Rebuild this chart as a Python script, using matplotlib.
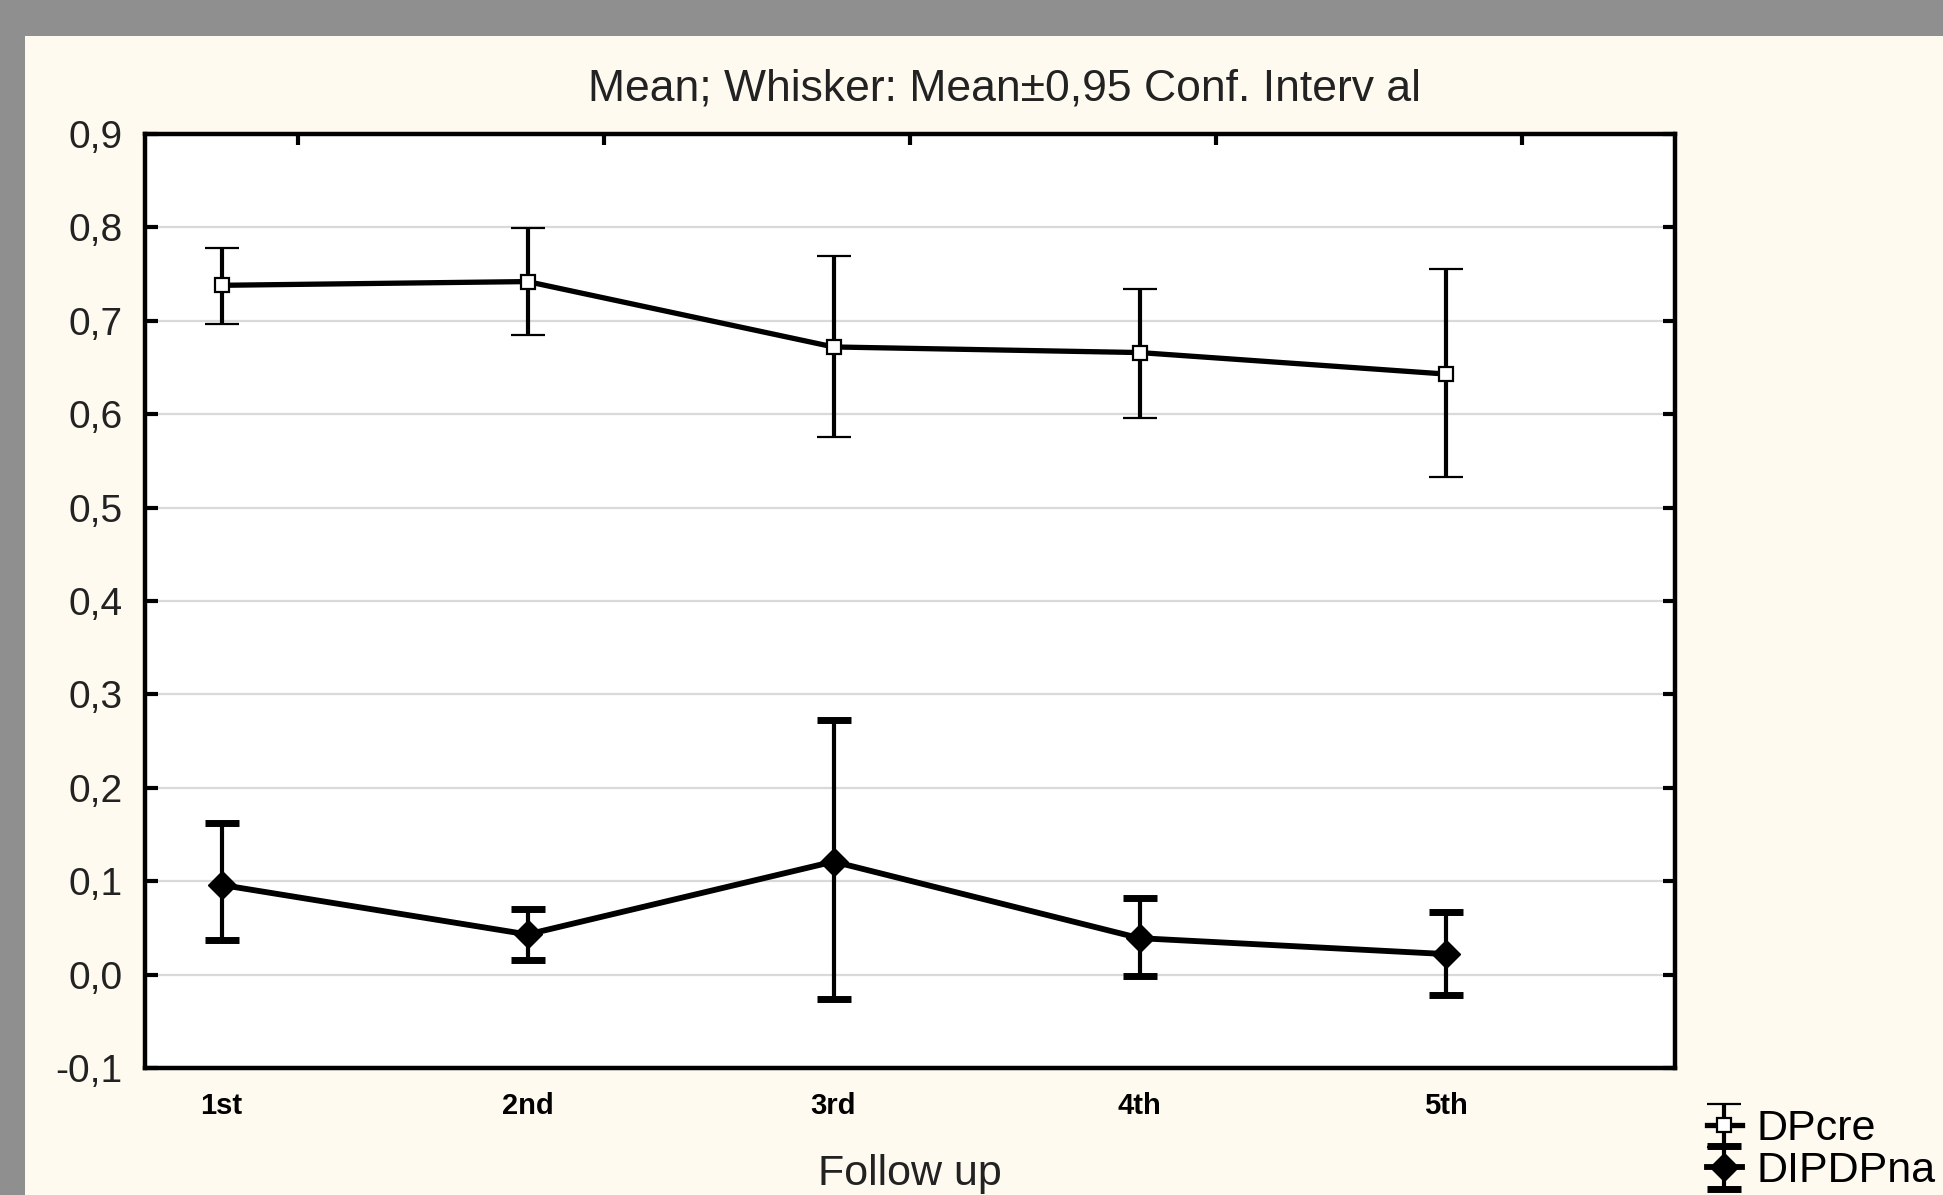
import matplotlib.pyplot as plt
from matplotlib.patches import Rectangle

# data
visits = ['1st', '2nd', '3rd', '4th', '5th']
dpcre_mean = [0.738, 0.742, 0.672, 0.666, 0.643]
dpcre_low = [0.697, 0.685, 0.576, 0.596, 0.533]
dpcre_high = [0.778, 0.799, 0.769, 0.734, 0.755]
dipdp_mean = [0.096, 0.043, 0.121, 0.039, 0.022]
dipdp_low = [0.037, 0.016, -0.026, -0.002, -0.022]
dipdp_high = [0.162, 0.070, 0.273, 0.082, 0.067]
yticks = [-0.1, 0.0, 0.1, 0.2, 0.3, 0.4, 0.5, 0.6, 0.7, 0.8, 0.9]

plt.rcParams['font.family'] = ['Liberation Sans', 'DejaVu Sans']

fig = plt.figure(figsize=(19.43, 11.95), dpi=100, facecolor='#8f8f8f')
# cream panel on the gray window background
fig.patches.append(Rectangle((25 / 1943, 0), 1, 1 - 36 / 1195, transform=fig.transFigure,
                             facecolor='#fefaf0', edgecolor='none', zorder=-10))

ax = fig.add_axes([145 / 1943, 1 - 1068 / 1195, 1530 / 1943, 934 / 1195])
ax.set_facecolor('white')

x = list(range(len(visits)))
err1 = [[m - l for m, l in zip(dpcre_mean, dpcre_low)], [h - m for m, h in zip(dpcre_mean, dpcre_high)]]
err2 = [[m - l for m, l in zip(dipdp_mean, dipdp_low)], [h - m for m, h in zip(dipdp_mean, dipdp_high)]]

h1 = ax.errorbar(x, dpcre_mean, yerr=err1, color='black', lw=3.8, elinewidth=3, capsize=12,
                 capthick=5, marker='s', ms=10, mfc='white', mec='black', mew=1.6, label='DPcre', zorder=3)
h2 = ax.errorbar(x, dipdp_mean, yerr=err2, color='black', lw=4.2, elinewidth=3, capsize=12,
                 capthick=5, marker='D', ms=14, mfc='black', mec='black', label='DIPDPna', zorder=3)

ax.set_xlim(-0.25, 4.75)
ax.set_ylim(-0.1, 0.9)
ax.set_yticks(yticks)
ax.set_yticklabels([f'{v:.1f}'.replace('.', ',') for v in yticks], fontsize=28, color='#222222')
ax.set_xticks(x)
ax.set_xticklabels(visits, fontsize=21, fontweight='bold', family=['Liberation Sans Narrow', 'Liberation Sans'])
ax.grid(axis='y', color='#d9d9d9', lw=1.6, zorder=0)
ax.tick_params(axis='y', direction='in', length=9, width=3, pad=16, right=True)
ax.tick_params(axis='x', length=0, pad=17)
for s in ax.spines.values():
    s.set_linewidth(3.2)

# inward ticks on the top frame, as in the original
top = ax.secondary_xaxis('top')
top.set_xticks([i + 0.25 for i in x])
top.set_xticklabels([])
top.tick_params(direction='in', length=8, width=3)
top.spines['top'].set_visible(False)

ax.set_xlabel('Follow up', fontsize=31, family=['Liberation Sans Narrow', 'Liberation Sans'],
              color='#222222', labelpad=25)
fig.text(1004 / 1943, 1 - 89 / 1195, 'Mean; Whisker: Mean±0,95 Conf. Interv al', ha='center',
         va='center', fontsize=32, color='#222222')

fig.legend(handles=[h1, h2], loc='upper left', bbox_to_anchor=(1690 / 1943, 1 - 1092 / 1195),
           frameon=False, fontsize=31, handlelength=0.8, handletextpad=0.35, labelspacing=0.05,
           borderaxespad=0)

plt.savefig('out.png', dpi=100, facecolor=fig.get_facecolor())
